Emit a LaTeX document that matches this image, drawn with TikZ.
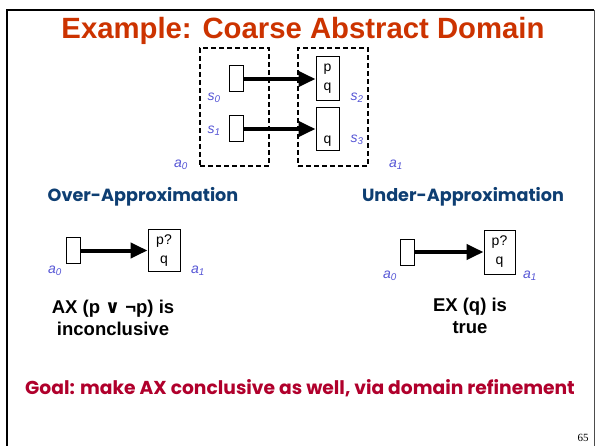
\documentclass[tikz,border=0pt]{standalone}
\usepackage{fontspec}
\setmainfont{Liberation Sans}
\newfontfamily\comicfont{Poppins}
\newfontfamily\pagefont{Liberation Serif}
\newfontfamily\symfont{DejaVu Sans}
\usetikzlibrary{arrows.meta}
\definecolor{titlered}{HTML}{CC3300}
\definecolor{headblue}{HTML}{0E3E72}
\definecolor{goalred}{HTML}{B0002C}
\definecolor{labblue}{HTML}{5555D5}
\begin{document}
\begin{tikzpicture}[x=1pt, y=-1pt,
    dashbox/.style={draw, dash pattern=on 5pt off 3pt, line width=1.1pt, inner sep=0pt},
    smallstate/.style={draw, line width=1pt, fill=white, minimum width=14pt, minimum height=26pt, inner sep=0pt},
    bigstate/.style={draw, line width=1pt, fill=white, minimum width=23pt, minimum height=44pt, inner sep=0pt, font=\fontsize{14}{19}\selectfont, align=center},
    trans/.style={-{Triangle[length=17pt, width=15pt]}, line width=4pt},
    statelabel/.style={text=labblue, font=\fontsize{14}{16}\selectfont\itshape},
    heading/.style={text=headblue, font=\comicfont\bfseries\fontsize{17.6}{20}\selectfont},
    verdict/.style={font=\bfseries\fontsize{18.5}{22}\selectfont, align=center}
]
    \useasboundingbox (0,0) rectangle (596,446);

    % slide frame
    \draw[line width=2.5pt] (7,446) -- (7,10) -- (594,10);
    \draw[line width=0.8pt, black!70] (594,10) -- (594,446);

    \node[text=titlered, font=\bfseries\fontsize{29.3}{32}\selectfont] (title) at (303,31) {Example: Coarse Abstract Domain};

    % Concrete states in two abstract states
    \node[dashbox, minimum width=69pt, minimum height=118pt] (absA) at (234.5,107) {};
    \node[dashbox, minimum width=70pt, minimum height=118pt] (absB) at (333,107) {};

    \node[smallstate] (s0) at (236,79) {};
    \node[smallstate] (s1) at (236,129) {};
    \node[bigstate] (s2) at (327.5,79) {p\\q};
    \node[bigstate, minimum height=43pt] (s3) at (327.5,129) {\strut\\q};

    \draw[trans] (s0.east) -- (s2.west);
    \draw[trans] (s1.east) -- (s3.west);

    \node[statelabel] (s0lab) at (214,98) {s\textsubscript{0}};
    \node[statelabel] (s1lab) at (214,131) {s\textsubscript{1}};
    \node[statelabel] (s2lab) at (357,98) {s\textsubscript{2}};
    \node[statelabel] (s3lab) at (357,140) {s\textsubscript{3}};
    \node[statelabel] (a0lab) at (181,165) {a\textsubscript{0}};
    \node[statelabel] (a1lab) at (396,165) {a\textsubscript{1}};

    % Over-approximation
    \node[heading] (over) at (143,197) {Over-Approximation};
    \node[smallstate] (ova) at (73,250.5) {};
    \node[bigstate, minimum width=32pt, minimum height=42pt] (ovb) at (164,250.5) {p?\\q};
    \draw[trans] (ova.east) -- (ovb.west);
    \node[statelabel] (ovalab) at (55,271) {a\textsubscript{0}};
    \node[statelabel] (ovblab) at (198,271) {a\textsubscript{1}};
    \node[verdict] (ovres) at (113,318) {AX (p {\symfont\bfseries ∨} ¬p) is\\inconclusive};

    % Under-approximation
    \node[heading] (under) at (463,197) {Under-Approximation};
    \node[smallstate] (una) at (407.5,252) {};
    \node[bigstate, minimum width=31pt, minimum height=44pt] (unb) at (499.5,252) {p?\\q};
    \draw[trans] (una.east) -- (unb.west);
    \node[statelabel] (unalab) at (390,276) {a\textsubscript{0}};
    \node[statelabel] (unblab) at (530,276) {a\textsubscript{1}};
    \node[verdict] (unres) at (470,316) {EX (q) is\\true};

    % goal
    \node[text=goalred, font=\comicfont\bfseries\fontsize{18.7}{22}\selectfont] (goal) at (300,388) {Goal: make AX conclusive as well, via domain refinement};

    \node[font=\pagefont\fontsize{11}{12}\selectfont] (pageno) at (583,438) {65};
\end{tikzpicture}
\end{document}
